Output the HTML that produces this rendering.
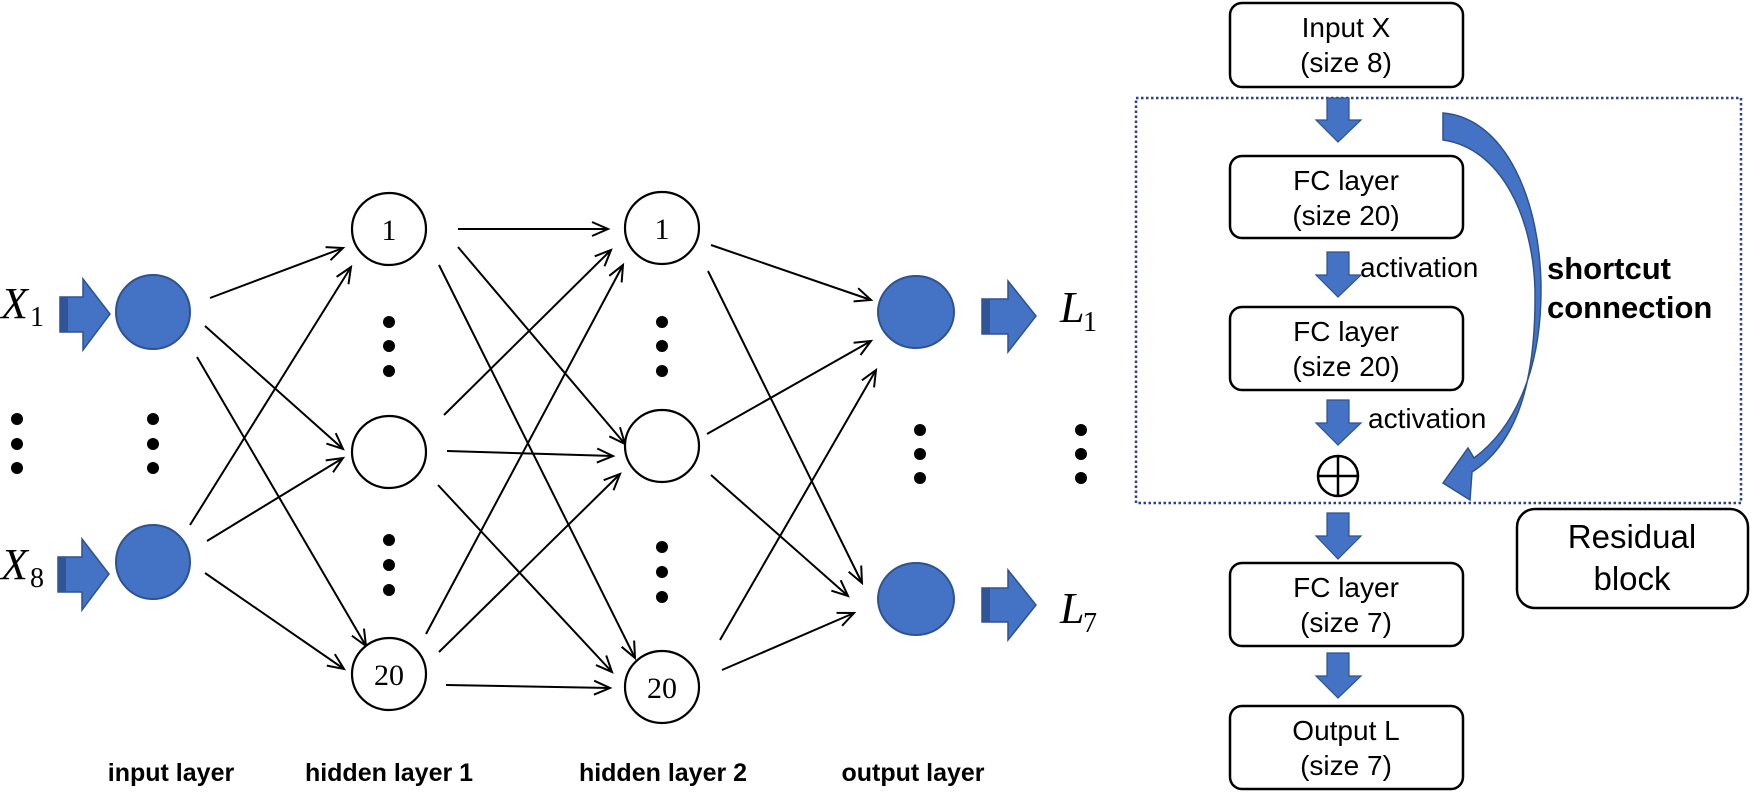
<!DOCTYPE html>
<html><head><meta charset="utf-8"><style>
html,body{margin:0;padding:0;background:#fff;}
svg{display:block;}
</style></head><body>
<svg width="1755" height="796" viewBox="0 0 1755 796" xmlns="http://www.w3.org/2000/svg">
<defs>
<marker id="ah" markerUnits="userSpaceOnUse" markerWidth="20" markerHeight="20" refX="17" refY="8" orient="auto">
<path d="M1,1 L17,8 L1,15" fill="none" stroke="#000" stroke-width="2"/>
</marker>
</defs>
<g stroke="#000" stroke-width="2" fill="none" marker-end="url(#ah)">
<line x1="210" y1="298" x2="343" y2="248"/>
<line x1="205" y1="326" x2="343" y2="449"/>
<line x1="197" y1="357" x2="366" y2="646"/>
<line x1="190" y1="525" x2="351" y2="267"/>
<line x1="207" y1="541" x2="343" y2="458"/>
<line x1="205" y1="573" x2="344" y2="669"/>
<line x1="458" y1="229" x2="608" y2="229"/>
<line x1="458" y1="247" x2="625" y2="444"/>
<line x1="439" y1="265" x2="635" y2="658"/>
<line x1="444" y1="415" x2="611" y2="250"/>
<line x1="447" y1="451" x2="613" y2="456"/>
<line x1="438" y1="485" x2="612" y2="672"/>
<line x1="426" y1="634" x2="623" y2="265"/>
<line x1="439" y1="652" x2="620" y2="474"/>
<line x1="446" y1="685" x2="610" y2="688"/>
<line x1="711" y1="245" x2="871" y2="300"/>
<line x1="707" y1="434" x2="871" y2="341"/>
<line x1="720" y1="640" x2="876" y2="370"/>
<line x1="708" y1="271" x2="862" y2="583"/>
<line x1="711" y1="475" x2="848" y2="596"/>
<line x1="722" y1="670" x2="854" y2="613"/>
</g>
<g fill="#4472C4" stroke="#2F528F" stroke-width="2">
<circle cx="153" cy="312" r="37"/>
<circle cx="153" cy="562" r="37"/>
<ellipse cx="916" cy="312" rx="38" ry="36"/>
<ellipse cx="916" cy="599" rx="38" ry="36"/>
</g>
<g fill="#fff" stroke="#000" stroke-width="2.2">
<ellipse cx="389" cy="229" rx="37" ry="36"/>
<ellipse cx="389" cy="452" rx="37" ry="36"/>
<ellipse cx="389" cy="674" rx="37" ry="36"/>
<ellipse cx="662" cy="228" rx="37" ry="36"/>
<ellipse cx="662" cy="446" rx="37" ry="36"/>
<ellipse cx="662" cy="687" rx="37" ry="36"/>
</g>
<g font-family="'Liberation Serif',serif" font-size="30" text-anchor="middle" fill="#000">
<text x="389" y="240">1</text>
<text x="389" y="685">20</text>
<text x="662" y="239">1</text>
<text x="662" y="698">20</text>
</g>
<g fill="#000">
<circle cx="17" cy="419" r="6"/><circle cx="17" cy="444" r="6"/><circle cx="17" cy="468" r="6"/>
<circle cx="153" cy="419" r="6"/><circle cx="153" cy="444" r="6"/><circle cx="153" cy="468" r="6"/>
<circle cx="389" cy="322" r="6"/><circle cx="389" cy="346" r="6"/><circle cx="389" cy="371" r="6"/>
<circle cx="389" cy="540" r="6"/><circle cx="389" cy="565" r="6"/><circle cx="389" cy="590" r="6"/>
<circle cx="662" cy="322" r="6"/><circle cx="662" cy="346" r="6"/><circle cx="662" cy="371" r="6"/>
<circle cx="662" cy="547" r="6"/><circle cx="662" cy="572" r="6"/><circle cx="662" cy="597" r="6"/>
<circle cx="920" cy="430" r="6"/><circle cx="920" cy="454" r="6"/><circle cx="920" cy="478" r="6"/>
<circle cx="1081" cy="430" r="6"/><circle cx="1081" cy="454" r="6"/><circle cx="1081" cy="478" r="6"/>
</g>
<g fill="#4472C4" stroke="#2F528F" stroke-width="1.5">
<polygon points="60,297 83,297 83,279 110,314 83,350 83,332 60,332"/>
<polygon points="58,557 82,557 82,539 109,574 82,610 82,592 58,592"/>
<polygon points="982,299 1008,299 1008,281 1036,316 1008,352 1008,334 982,334"/>
<polygon points="982,588 1008,588 1008,570 1036,605 1008,640 1008,622 982,622"/>
</g>
<g fill="#2F5597">
<rect x="60" y="297" width="8" height="35"/>
<rect x="58" y="557" width="8" height="35"/>
<rect x="982" y="299" width="8" height="35"/>
<rect x="982" y="588" width="8" height="34"/>
</g>
<g font-family="'Liberation Serif',serif" fill="#000">
<text x="1" y="318" font-size="44" font-style="italic">X</text><text x="30" y="326" font-size="28">1</text>
<text x="1" y="579" font-size="44" font-style="italic">X</text><text x="30" y="587" font-size="28">8</text>
<text x="1060" y="322" font-size="44" font-style="italic">L</text><text x="1083" y="331" font-size="28">1</text>
<text x="1060" y="623" font-size="44" font-style="italic">L</text><text x="1083" y="632" font-size="28">7</text>
</g>
<g font-family="'Liberation Sans',sans-serif" font-size="25" font-weight="bold" text-anchor="middle" fill="#000">
<text x="171" y="781">input layer</text>
<text x="389" y="781">hidden layer 1</text>
<text x="663" y="781">hidden layer 2</text>
<text x="913" y="781">output layer</text>
</g>
<rect x="1136" y="98" width="605" height="405" fill="none" stroke="#2F3F8F" stroke-width="2.5" stroke-dasharray="2.5 2.5"/>
<g fill="#fff" stroke="#000" stroke-width="2.5">
<rect x="1230" y="3" width="233" height="84" rx="12"/>
<rect x="1230" y="156" width="233" height="82" rx="12"/>
<rect x="1230" y="307" width="233" height="83" rx="12"/>
<rect x="1230" y="563" width="233" height="83" rx="12"/>
<rect x="1230" y="706" width="233" height="83" rx="12"/>
<rect x="1517" y="509" width="231" height="99" rx="18"/>
</g>
<g font-family="'Liberation Sans',sans-serif" font-size="28" text-anchor="middle" fill="#000">
<text x="1346" y="37">Input X</text><text x="1346" y="72">(size 8)</text>
<text x="1346" y="190">FC layer</text><text x="1346" y="225">(size 20)</text>
<text x="1346" y="341">FC layer</text><text x="1346" y="376">(size 20)</text>
<text x="1346" y="597">FC layer</text><text x="1346" y="632">(size 7)</text>
<text x="1346" y="740">Output L</text><text x="1346" y="775">(size 7)</text>
<text x="1632" y="548" font-size="33">Residual</text>
<text x="1632" y="590" font-size="33">block</text>
</g>
<g font-family="'Liberation Sans',sans-serif" font-size="28" fill="#000">
<text x="1360" y="277">activation</text>
<text x="1368" y="428">activation</text>
</g>
<g font-family="'Liberation Sans',sans-serif" font-size="31" font-weight="bold" fill="#000">
<text x="1547" y="279">shortcut</text>
<text x="1547" y="318">connection</text>
</g>
<g fill="#4472C4" stroke="#2F528F" stroke-width="1.2">
<polygon points="1327,98 1349,98 1349,120 1361,120 1338,142 1316,120 1327,120"/>
<polygon points="1327,252 1349,252 1349,275 1361,275 1338,297 1316,275 1327,275"/>
<polygon points="1327,400 1349,400 1349,423 1361,423 1338,445 1316,423 1327,423"/>
<polygon points="1327,513 1349,513 1349,536 1361,536 1338,559 1316,536 1327,536"/>
<polygon points="1327,653 1349,653 1349,676 1361,676 1338,698 1316,676 1327,676"/>
</g>
<g stroke="#000" stroke-width="2.5" fill="none">
<circle cx="1338" cy="476" r="20"/>
<line x1="1318" y1="476" x2="1358" y2="476"/>
<line x1="1338" y1="456" x2="1338" y2="496"/>
</g>
<path d="M1443,113 C1505,118 1541,200 1541,290 C1541,375 1512,430 1474,458 L1468,448 L1443,483 L1470,500 L1472,472 C1522,440 1536,370 1535,290 C1533,215 1500,148 1443,140 Z" fill="#4472C4" stroke="#2F528F" stroke-width="1.5"/>
</svg>
</body></html>
